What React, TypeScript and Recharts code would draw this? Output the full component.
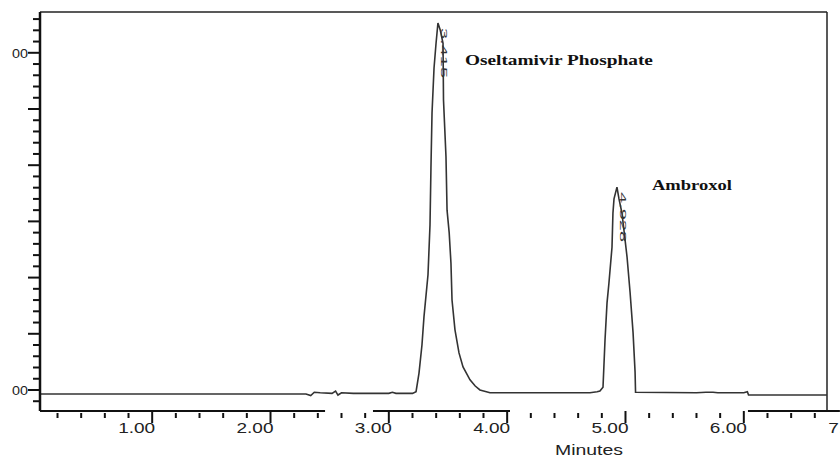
import { LineChart, Line, XAxis, YAxis, ReferenceLine, ReferenceDot } from 'recharts';

// chromatogram trace (minutes, response)
const times = [
  0.052, 2.3, 2.34, 2.37, 2.42, 2.52, 2.55, 2.57, 2.6, 2.7, 3.0, 3.03, 3.06, 3.2,
  3.23, 3.255, 3.28, 3.297, 3.331, 3.348, 3.356, 3.365, 3.382, 3.399, 3.415, 3.435,
  3.458, 3.462, 3.483, 3.492, 3.51, 3.525, 3.534, 3.559, 3.593, 3.627, 3.686, 3.73,
  3.77, 3.855, 4.3, 4.7, 4.76, 4.784, 4.81, 4.827, 4.844, 4.86, 4.886, 4.894, 4.903,
  4.928, 4.945, 4.97, 5.013, 5.039, 5.064, 5.081, 5.085, 5.6, 5.68, 5.74, 5.78, 6.0,
  6.03, 6.04, 6.703
];
const response = [
  -0.071, -0.071, -0.1, -0.04, -0.05, -0.06, -0.02, -0.09, -0.05, -0.06, -0.06, -0.04, -0.06, -0.06,
  -0.03, 0.3, 0.8, 1.3, 2.05, 2.94, 3.95, 4.93, 5.73, 6.17, 6.53, 6.4,
  6.17, 5.16, 4.15, 3.2, 2.8, 2.26, 1.6, 1.07, 0.66, 0.41, 0.18, 0.07,
  0.0, -0.05, -0.05, -0.05, -0.03, -0.02, 0.05, 0.89, 1.55, 1.9, 2.54, 3.15, 3.4,
  3.61, 3.4, 3.15, 2.37, 1.73, 1.02, 0.32, -0.04, -0.05, -0.04, -0.04, -0.05, -0.05,
  -0.03, -0.09, -0.09
];

const peakNames = ['Oseltamivir Phosphate', 'Ambroxol'];
const peakTimes = [3.415, 4.928];
const peakHeights = [6.53, 3.61];
const peakRetention = ['3.415', '4.928'];

const xDomain = [0.052, 6.703];
const yDomain = [-0.374, 6.726];
const xTicks = Array.from({ length: 33 }, (_, i) => +(0.2 * (i + 1)).toFixed(1));
const xLabelValues = [1, 2, 3, 4, 5, 6, 7];
const xLabels = ['1.00', '2.00', '3.00', '4.00', '5.00', '6.00', '7.00'];
const yTicks = Array.from({ length: 35 }, (_, i) => +(-0.2 + 0.2 * i).toFixed(1));
const yLabelValues = [0, 6];
const yLabels = ['00', '00'];
// pieces of the bottom axis line that are drawn (the scan has gaps in it)
const axisPieces = [
  [0.052, 2.461],
  [2.866, 4.024],
  [6.035, 6.812]
];

const trace = times.map((t, i) => ({ t, v: response[i] }));

const isMajor = (v: number) => Math.abs(v - Math.round(v)) < 1e-6;

const XTickMark = ({ x, y, value }: { x: number; y: number; value: number }) => {
  const major = isMajor(value);
  const idx = xLabelValues.indexOf(Math.round(value));
  return (
    <g>
      <line x1={x} x2={x} y1={major ? y : y + 2} y2={major ? y + 12 : y + 7} stroke="#111" strokeWidth={2} />
      {major && idx >= 0 && (
        <text
          x={x - 34}
          y={y + 22}
          fontSize={14}
          fontFamily="Liberation Sans, Arial, sans-serif"
          fill="#222"
          textLength={37}
          lengthAdjust="spacingAndGlyphs"
        >
          {xLabels[idx]}
        </text>
      )}
    </g>
  );
};

const XTick = (props: any) => <XTickMark x={props.x} y={props.y} value={props.payload.value} />;

const YTick = (props: any) => {
  const { x, y, payload } = props;
  const major = isMajor(payload.value);
  const idx = yLabelValues.indexOf(payload.value);
  return (
    <g>
      <line x1={x - (major ? 12 : 7)} x2={x} y1={y} y2={y} stroke="#111" strokeWidth={2} />
      {idx >= 0 && (
        <text
          x={x - 28}
          y={y + 5}
          fontSize={13}
          fontFamily="Liberation Sans, Arial, sans-serif"
          fill="#222"
          textLength={16}
          lengthAdjust="spacingAndGlyphs"
        >
          {yLabels[idx]}
        </text>
      )}
    </g>
  );
};

const nameOffsets = [
  { dx: 27, dy: 42, width: 188 },
  { dx: 35, dy: 3, width: 80 }
];

export default function App() {
  return (
    <div style={{ position: 'absolute', left: 0, top: 0, background: '#fff' }}>
      <LineChart width={840} height={457} data={trace} margin={{ top: 12, right: 13, left: 0, bottom: 16 }}>
        <XAxis
          dataKey="t"
          type="number"
          domain={xDomain}
          allowDataOverflow
          ticks={xTicks}
          interval={0}
          tickSize={0}
          tickMargin={0}
          axisLine={false}
          tickLine={false}
          height={30}
          tick={XTick}
          label={{
            content: (p: any) => (
              <text
                x={p.viewBox.x + 515}
                y={p.viewBox.y + 44}
                fontSize={14}
                fontFamily="Liberation Sans, Arial, sans-serif"
                fill="#222"
                textLength={68}
                lengthAdjust="spacingAndGlyphs"
              >
                Minutes
              </text>
            )
          }}
        />
        <YAxis
          type="number"
          domain={yDomain}
          allowDataOverflow
          ticks={yTicks}
          interval={0}
          tickSize={0}
          tickMargin={0}
          width={40}
          axisLine={{ stroke: '#111', strokeWidth: 2.5 }}
          tickLine={false}
          tick={YTick}
        />
        <ReferenceLine y={yDomain[1]} stroke="#222" strokeWidth={1.5} />
        <ReferenceLine x={xDomain[1]} stroke="#222" strokeWidth={1.5} />
        {axisPieces.map(([a, b], i) => (
          <ReferenceLine
            key={`ax${i}`}
            segment={[
              { x: a, y: yDomain[0] },
              { x: b, y: yDomain[0] }
            ]}
            ifOverflow="visible"
            stroke="#111"
            strokeWidth={2}
          />
        ))}
        <ReferenceDot
          x={xLabelValues[6]}
          y={yDomain[0]}
          r={1}
          fill="none"
          stroke="none"
          ifOverflow="visible"
          label={{
            content: (p: any) => (
              <XTickMark x={p.viewBox.x + p.viewBox.width / 2} y={p.viewBox.y + p.viewBox.height / 2} value={7} />
            )
          }}
        />
        <Line
          dataKey="v"
          type="linear"
          stroke="#333"
          strokeWidth={1.6}
          dot={false}
          isAnimationActive={false}
        />
        {peakNames.map((name, i) => (
          <ReferenceDot
            key={name}
            x={peakTimes[i]}
            y={peakHeights[i]}
            r={1}
            fill="none"
            stroke="none"
            label={{
              content: (p: any) => {
                const cx = p.viewBox.x + p.viewBox.width / 2;
                const cy = p.viewBox.y + p.viewBox.height / 2;
                return (
                  <g>
                    <text
                      transform={`translate(${cx + 3},${cy + 5}) rotate(90)`}
                      fontSize={9}
                      fontFamily="Liberation Sans, Arial, sans-serif"
                      fill="#333"
                      textLength={50}
                      lengthAdjust="spacingAndGlyphs"
                    >
                      {peakRetention[i]}
                    </text>
                    <text
                      x={cx + nameOffsets[i].dx}
                      y={cy + nameOffsets[i].dy}
                      fontSize={15}
                      fontWeight="bold"
                      fontFamily="Liberation Serif, Times New Roman, serif"
                      fill="#111"
                      textLength={nameOffsets[i].width}
                      lengthAdjust="spacingAndGlyphs"
                    >
                      {name}
                    </text>
                  </g>
                );
              }
            }}
          />
        ))}
      </LineChart>
    </div>
  );
}
